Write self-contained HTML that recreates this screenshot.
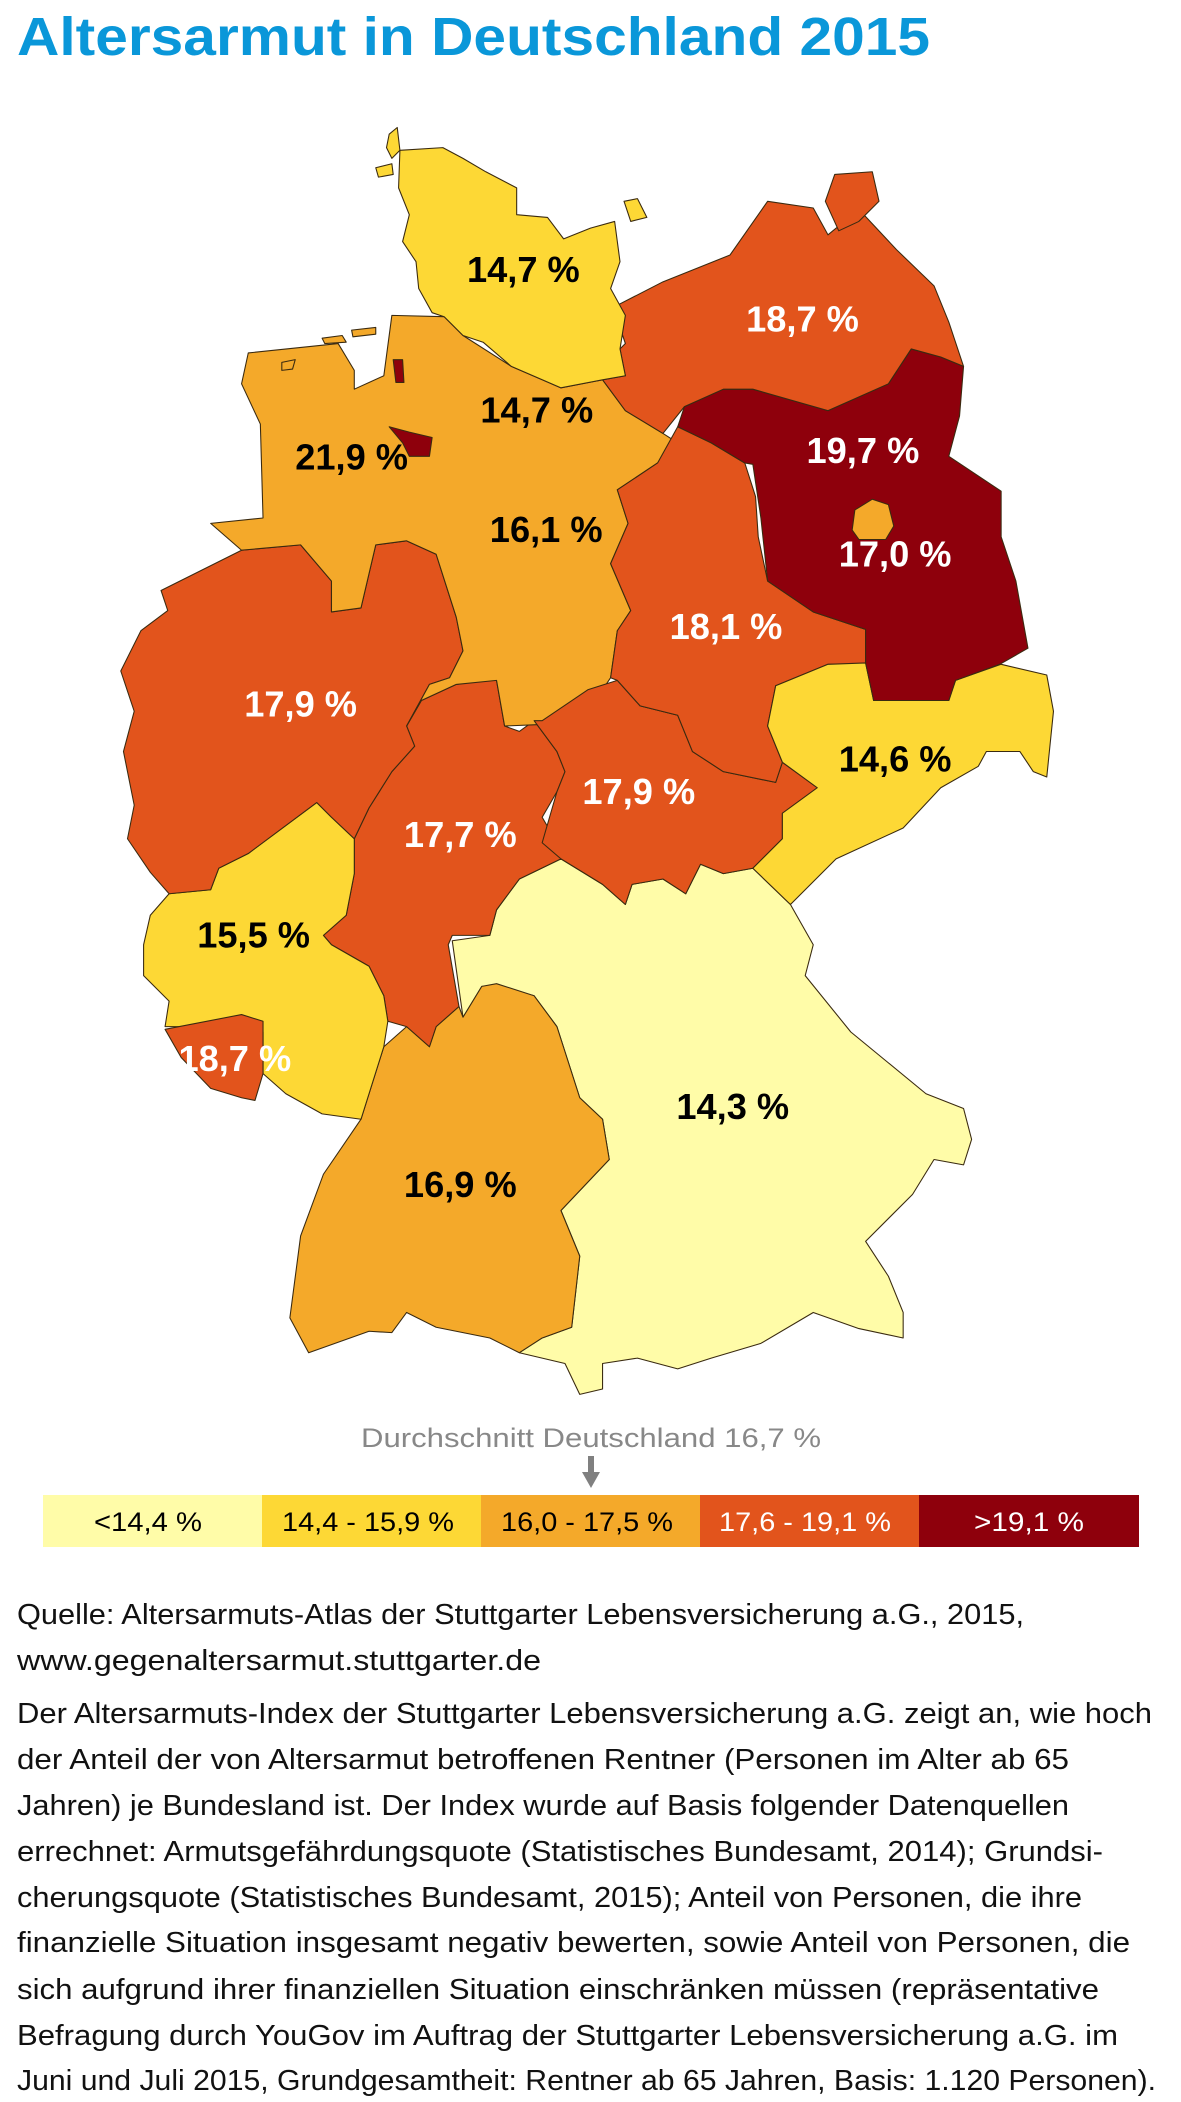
<!DOCTYPE html>
<html><head><meta charset="utf-8"><style>
html,body{margin:0;padding:0;background:#fff;}
svg{display:block;}
</style></head><body>
<svg width="1181" height="2102" viewBox="0 0 1181 2102" xmlns="http://www.w3.org/2000/svg" font-family="Liberation Sans, sans-serif">
<text x="17" y="55" font-size="54" font-weight="bold" fill="#0a97d9" textLength="913" lengthAdjust="spacingAndGlyphs">Altersarmut in Deutschland 2015</text>

<g transform="scale(1.342)" stroke="#3a2a10" stroke-width="0.8" stroke-linejoin="round">
<!-- Bayern -->
<polygon fill="#fffca8" points="418,640 449,659 466,674 471,659 494,655 511,666 522,644 539,651 561,647 589,674 606,704 600,727 634,769 662,792 690,815 718,826 724,849 718,868 696,864 680,890 645,925 662,951 673,978 673,997 640,990 606,978 567,1001 530,1012 505,1020 475,1012 449,1016 449,1035 432,1039 421,1016 387,1008 404,997 426,989 432,936 418,902 454,864 449,834 432,818 415,765 398,742 370,735 359,735 345,758 337,701 365,697 370,678 387,655"/>
<!-- BW -->
<polygon fill="#f4a92a" points="359,735 370,733 398,742 415,765 432,818 449,834 454,864 418,902 432,936 426,989 404,997 387,1008 365,997 325,989 303,978 292,993 275,992 230,1008 216,982 224,921 241,875 269,834 286,780 303,765 320,780 325,765 342,750 345,758"/>
<!-- Hessen -->
<polygon fill="#e2541c" points="303,541 314,522 340,510 359,507 370,507 376,541 387,545 398,537 415,560 421,575 415,590 404,609 415,628 418,640 387,655 370,678 365,697 337,697 334,704 342,750 325,765 320,780 303,765 289,761 286,742 275,720 247,704 241,697 258,682 264,651 264,625 275,602 292,575 309,556"/>
<!-- RP -->
<polygon fill="#fdd835" points="107,704 112,682 126,666 157,663 163,647 185,636 236,598 247,609 264,625 264,651 258,682 241,697 247,704 275,720 286,742 289,761 286,780 269,834 240,830 213,815 196,800 196,769 180,758 140,765 123,765 126,746 107,727"/>
<!-- Saarland -->
<polygon fill="#e2541c" points="123,767 180,756 196,761 196,800 190,820 180,818 157,811 135,788"/>
<!-- NRW -->
<polygon fill="#e2541c" points="180,410 224,406 247,433 247,456 269,453 280,406 303,403 325,413 340,460 345,485 335,505 320,510 303,541 309,556 292,575 275,602 264,625 247,609 236,598 185,636 163,647 157,663 126,666 112,650 95,625 100,600 92,560 100,530 90,500 105,470 125,455 120,440 150,425"/>
<!-- Lower Saxony -->
<polygon fill="#f4a92a" points="185,263 252,256 264,276 264,290 286,280 292,235 331,236 345,250 381,273 418,289 449,283 466,306 494,323 505,330 490,345 460,365 468,390 455,420 470,455 460,470 455,505 445,520 420,540 400,540 376,541 370,507 340,510 314,522 303,541 320,510 335,505 345,485 340,460 325,413 303,403 280,406 269,453 247,456 247,433 224,406 180,410 157,390 196,386 194,316 180,286"/>
<!-- Thueringen -->
<polygon fill="#e2541c" points="404,537 438,514 460,507 477,526 505,533 516,560 539,575 578,583 583,568 609,587 583,606 583,625 561,647 539,651 522,644 511,666 494,655 471,659 466,674 449,659 418,640 404,628 415,590 421,575 415,560 398,537"/>
<!-- Sachsen-Anhalt -->
<polygon fill="#e2541c" points="505,318 530,330 555,345 563,370 565,400 572,433 606,456 645,469 645,495 617,495 578,511 572,541 583,568 578,583 539,575 516,560 505,533 477,526 460,507 455,505 460,470 470,455 455,420 468,390 460,365 490,345"/>
<!-- Sachsen -->
<polygon fill="#fdd835" points="578,511 617,495 645,494 651,522 707,522 712,507 746,495 780,503 785,530 780,579 770,575 760,560 735,560 729,571 701,587 673,617 623,640 589,674 561,647 583,625 583,606 609,587 583,568 572,541"/>
<!-- Brandenburg -->
<polygon fill="#8e000c" points="505,318 510,303 539,290 561,290 617,306 662,286 679,260 701,266 718,273 715,310 707,340 746,366 746,400 757,433 766,483 745,495 712,507 707,522 651,522 645,494 645,469 606,456 572,433 567,386 561,346 555,345 530,330"/>
<!-- Berlin -->
<polygon fill="#f4a92a" points="637,380 650,372 662,376 666,392 660,402 640,402 635,395"/>
<!-- MV -->
<polygon fill="#e2541c" points="457,229 494,210 544,190 572,150 606,155 617,175 640,156 668,186 696,213 707,240 718,273 701,266 679,260 662,286 617,306 561,290 539,290 510,303 494,323 466,306 449,283 466,280 462,260 466,256"/>
<polygon fill="#e2541c" points="622,130 650,128 655,150 640,165 625,172 615,150"/>
<!-- SH -->
<polygon fill="#fdd835" points="298,112 330,110 345,118 362,128 385,140 385,160 408,162 420,178 440,170 458,165 462,195 455,215 466,235 462,260 466,280 449,283 418,289 381,273 360,255 345,250 331,236 322,233 312,215 310,195 300,180 305,160 297,140"/>
<polygon fill="#fdd835" points="465,150 475,148 482,162 470,165"/>
<polygon fill="#fdd835" points="290,100 296,95 298,112 292,118 288,110"/>
<polygon fill="#fdd835" points="280,125 292,122 293,130 282,132"/>
<!-- islands -->
<polygon fill="#f4a92a" points="240,252 255,250 258,255 242,256"/>
<polygon fill="#f4a92a" points="262,246 280,244 280,249 263,251"/>
<polygon fill="#f4a92a" points="210,270 220,268 218,275 210,276"/>
<!-- Bremen -->
<polygon fill="#8e000c" points="290,318 305,322 322,326 320,340 305,340 300,330"/>
<polygon fill="#8e000c" points="293,268 300,268 301,285 295,285"/>

<g stroke="none" font-weight="bold" font-size="27" text-anchor="middle">
<text x="390" y="210" fill="#000">14,7 %</text>
<text x="598" y="247" fill="#fff">18,7 %</text>
<text x="400" y="315" fill="#000">14,7 %</text>
<text x="262" y="350" fill="#000">21,9 %</text>
<text x="643" y="345" fill="#fff">19,7 %</text>
<text x="407" y="404" fill="#000">16,1 %</text>
<text x="667" y="422" fill="#fff">17,0 %</text>
<text x="541" y="476" fill="#fff">18,1 %</text>
<text x="224" y="534" fill="#fff">17,9 %</text>
<text x="667" y="575" fill="#000">14,6 %</text>
<text x="476" y="599" fill="#fff">17,9 %</text>
<text x="343" y="631" fill="#fff">17,7 %</text>
<text x="189" y="706" fill="#000">15,5 %</text>
<text x="175" y="798" fill="#fff">18,7 %</text>
<text x="546" y="834" fill="#000">14,3 %</text>
<text x="343" y="892" fill="#000">16,9 %</text>
</g>
</g>

<text x="361" y="1447" font-size="27" fill="#888" textLength="460" lengthAdjust="spacingAndGlyphs">Durchschnitt Deutschland 16,7 %</text>
<rect x="588" y="1456" width="6" height="18" fill="#808080"/>
<polygon points="582,1472 600,1472 591,1488" fill="#808080"/>

<rect x="43" y="1495" width="220" height="52" fill="#fffca8"/>
<rect x="262" y="1495" width="220" height="52" fill="#fdd835"/>
<rect x="481" y="1495" width="220" height="52" fill="#f4a92a"/>
<rect x="700" y="1495" width="220" height="52" fill="#e2541c"/>
<rect x="919" y="1495" width="220" height="52" fill="#8e000c"/>
<g font-size="27" text-anchor="middle">
<text x="148" y="1531" fill="#000" textLength="108" lengthAdjust="spacingAndGlyphs">&lt;14,4 %</text>
<text x="368" y="1531" fill="#000" textLength="172" lengthAdjust="spacingAndGlyphs">14,4 - 15,9 %</text>
<text x="587" y="1531" fill="#000" textLength="172" lengthAdjust="spacingAndGlyphs">16,0 - 17,5 %</text>
<text x="805" y="1531" fill="#fff" textLength="172" lengthAdjust="spacingAndGlyphs">17,6 - 19,1 %</text>
<text x="1029" y="1531" fill="#fff" textLength="110" lengthAdjust="spacingAndGlyphs">&gt;19,1 %</text>
</g>

<g font-size="29" fill="#111" lengthAdjust="spacingAndGlyphs">
<text x="17" y="1624" textLength="1007" lengthAdjust="spacingAndGlyphs">Quelle: Altersarmuts-Atlas der Stuttgarter Lebensversicherung a.G., 2015,</text>
<text x="17" y="1670" textLength="524" lengthAdjust="spacingAndGlyphs">www.gegenaltersarmut.stuttgarter.de</text>
<text x="17" y="1723" textLength="1135" lengthAdjust="spacingAndGlyphs">Der Altersarmuts-Index der Stuttgarter Lebensversicherung a.G. zeigt an, wie hoch</text>
<text x="17" y="1769" textLength="1052" lengthAdjust="spacingAndGlyphs">der Anteil der von Altersarmut betroffenen Rentner (Personen im Alter ab 65</text>
<text x="17" y="1815" textLength="1052" lengthAdjust="spacingAndGlyphs">Jahren) je Bundesland ist. Der Index wurde auf Basis folgender Datenquellen</text>
<text x="17" y="1861" textLength="1086" lengthAdjust="spacingAndGlyphs">errechnet: Armutsgefährdungsquote (Statistisches Bundesamt, 2014); Grundsi-</text>
<text x="17" y="1907" textLength="1065" lengthAdjust="spacingAndGlyphs">cherungsquote (Statistisches Bundesamt, 2015); Anteil von Personen, die ihre</text>
<text x="17" y="1952" textLength="1113" lengthAdjust="spacingAndGlyphs">finanzielle Situation insgesamt negativ bewerten, sowie Anteil von Personen, die</text>
<text x="17" y="1999" textLength="1082" lengthAdjust="spacingAndGlyphs">sich aufgrund ihrer finanziellen Situation einschränken müssen (repräsentative</text>
<text x="17" y="2045" textLength="1101" lengthAdjust="spacingAndGlyphs">Befragung durch YouGov im Auftrag der Stuttgarter Lebensversicherung a.G. im</text>
<text x="17" y="2090" textLength="1139" lengthAdjust="spacingAndGlyphs">Juni und Juli 2015, Grundgesamtheit: Rentner ab 65 Jahren, Basis: 1.120 Personen).</text>
</g>
</svg>
</body></html>
